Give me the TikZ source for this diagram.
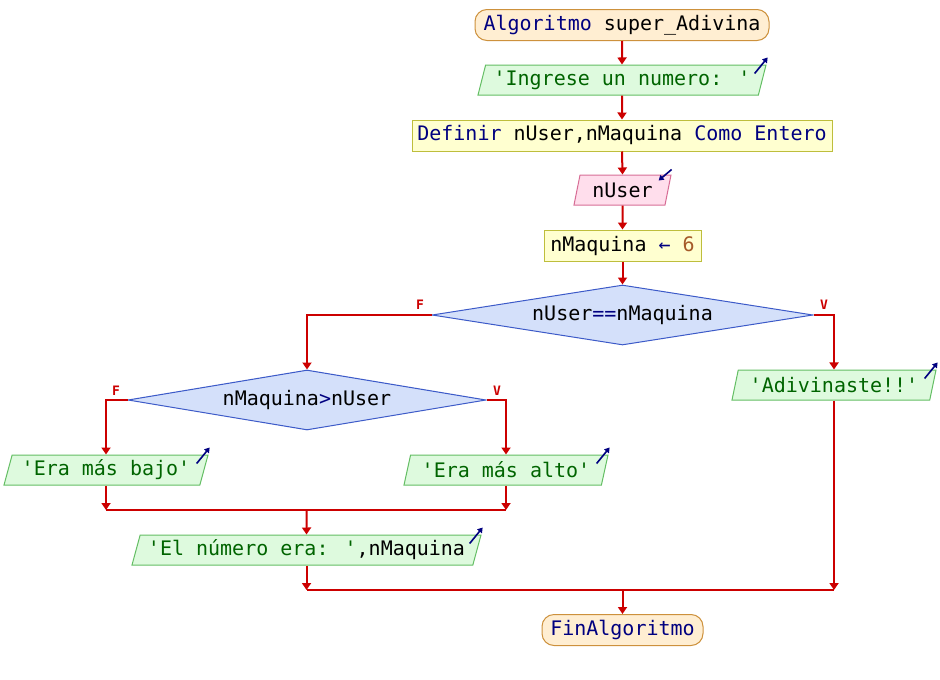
\documentclass[tikz,border=0pt]{standalone}
\usepackage{fontspec}
\setmainfont{DejaVu Sans Mono}
\usetikzlibrary{shapes.geometric,arrows.meta}
\definecolor{redL}{RGB}{204,0,0}
\definecolor{navyC}{RGB}{0,0,128}
\definecolor{strC}{RGB}{0,100,0}
\definecolor{numC}{RGB}{165,90,40}
\definecolor{termF}{RGB}{255,238,210}
\definecolor{termB}{RGB}{205,145,60}
\definecolor{procF}{RGB}{255,255,208}
\definecolor{procB}{RGB}{190,190,60}
\definecolor{inF}{RGB}{255,222,236}
\definecolor{inB}{RGB}{215,110,150}
\definecolor{outF}{RGB}{222,250,222}
\definecolor{outB}{RGB}{100,190,100}
\definecolor{decF}{RGB}{212,224,250}
\definecolor{decB}{RGB}{60,90,200}
\newcommand{\kwd}[1]{\textcolor{navyC}{#1}}
\newcommand{\strg}[1]{\textcolor{strC}{#1}}
\newcommand{\numb}[1]{\textcolor{numC}{#1}}
\newcommand{\qq}{\textquotesingle}
\tikzset{
  base/.style={font=\fontsize{20}{24}\selectfont, inner sep=0pt, line width=1pt},
  term/.style={base, draw=termB, fill=termF, rounded corners=12pt, minimum height=31pt},
  proc/.style={base, draw=procB, fill=procF, minimum height=31pt},
  para/.style={base, trapezium, trapezium left angle=68, trapezium right angle=112,
    trapezium stretches body, minimum height=30pt},
  outp/.style={para, draw=outB, fill=outF},
  inp/.style={para, draw=inB, fill=inF},
  dec/.style={base, diamond, draw=decB, fill=decF, minimum height=60pt},
  line/.style={draw=redL, line width=2pt},
  flow/.style={line, -{Triangle[width=9pt,length=7pt]}},
  lab/.style={text=redL, font=\fontsize{13}{15}\selectfont\bfseries, inner sep=0pt},
  icon/.style={draw=navyC, line width=1.6pt, -{Triangle[width=6pt,length=5pt]}}
}
\begin{document}
\begin{tikzpicture}[x=1pt,y=-1pt]
\useasboundingbox (0,0) rectangle (940,680);
% nodes
\node[term, minimum width=294pt] (start) at (622,25) {\kwd{Algoritmo} super\_Adivina};
\node[outp, minimum width=288pt] (ingr) at (622,80) {\strg{\qq Ingrese un numero: \qq}};
\node[proc, minimum width=420pt] (defn) at (622,135.5) {\kwd{Definir} nUser,nMaquina \kwd{Como Entero}};
\node[inp, minimum width=97pt] (leer) at (622.5,190) {nUser};
\node[proc, minimum width=157pt] (asig) at (622.5,245.5) {nMaquina \kwd{←} \numb{6}};
\node[dec, aspect=6.35, minimum width=381pt] (d1) at (622.5,315) {nUser\kwd{==}nMaquina};
\node[dec, aspect=6, minimum width=358pt] (d2) at (307,400) {nMaquina\kwd{>}nUser};
\node[outp, minimum width=204pt] (adiv) at (834,385) {\strg{\qq Adivinaste!!\qq}};
\node[outp, minimum width=204pt] (bajo) at (106,470) {\strg{\qq Era más bajo\qq}};
\node[outp, minimum width=204pt] (alto) at (506,470) {\strg{\qq Era más alto\qq}};
\node[outp, minimum width=349pt] (elnum) at (306.5,550) {\strg{\qq El número era: \qq},nMaquina};
\node[term, minimum width=161pt] (fin) at (622.5,630) {\kwd{FinAlgoritmo}};
% labels
\node[lab] (f1) at (420,305) {F};
\node[lab] (v1) at (824,305) {V};
\node[lab] (f2) at (116,391) {F};
\node[lab] (v2) at (497,391) {V};
% junctions
\coordinate (j1) at (306.5,510);
\coordinate (j2) at (622.5,590);
% connectors
\draw[flow] (start.south) -- (ingr.north);
\draw[flow] (ingr.south) -- (defn.north);
\draw[flow] (defn.south) -- (leer.north);
\draw[flow] (leer.south) -- (asig.north);
\draw[flow] (asig.south) -- (d1.north);
\draw[flow] (d1.west) -| (d2.north);
\draw[flow] (d1.east) -| (adiv.north);
\draw[flow] (d2.west) -| (bajo.north);
\draw[flow] (d2.east) -| (alto.north);
\draw[flow] (bajo.south) -- (bajo.south |- j1);
\draw[flow] (alto.south) -- (alto.south |- j1);
\draw[line] (bajo.south |- j1) -- (alto.south |- j1);
\draw[flow] (j1) -- (elnum.north);
\draw[flow] (elnum.south) -- (elnum.south |- j2);
\draw[flow] (adiv.south) -- (adiv.south |- j2);
\draw[line] (elnum.south |- j2) -- (adiv.south |- j2);
\draw[flow] (j2) -- (fin.north);
% io icons
\foreach \n in {ingr,adiv,bajo,alto,elnum}{
  \draw[icon] ([shift={(-12,9)}]\n.top right corner) -- ([shift={(1,-7)}]\n.top right corner);
}
\draw[icon] ([shift={(0,-5)}]leer.top right corner) -- ([shift={(-13,6)}]leer.top right corner);
\end{tikzpicture}
\end{document}
